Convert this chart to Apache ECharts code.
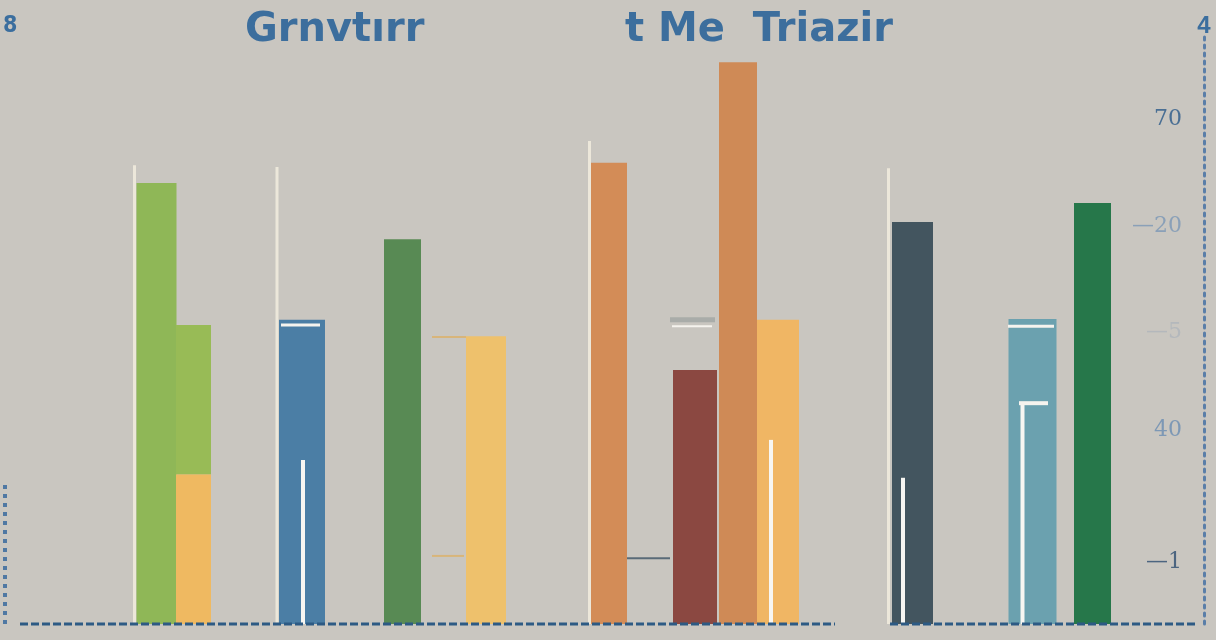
<!DOCTYPE html>
<html>
<head>
<meta charset="utf-8">
<script src="https://cdn.jsdelivr.net/npm/echarts@6/dist/echarts.min.js"></script>
<style>html,body{margin:0;padding:0;background:#c9c6c0;}#chart{width:1216px;height:640px;}</style>
</head>
<body>
<div id="chart"></div>
<script>
// ---- data ----
const titleParts = ['Grnvtırr', 't Me  Triazir'];
const leftAxisName = '8';
const rightAxisName = '4';
const barNames = ['A', 'B1', 'B2', 'C', 'D', 'E', 'F', 'G', 'H', 'I', 'J', 'K', 'L'];
const barPos = [13.65, 17.35, 17.35, 28.2, 38.25, 46.6, 58.9, 67.5, 71.8, 75.8, 89.25, 101.25, 107.25];
const barValues = [74.5, 25.3, 25.2, 51.4, 65.0, 48.6, 77.9, 42.9, 94.9, 51.4, 67.9, 51.5, 71.1];
const polePos = [11.45, 25.7, 56.95, 86.85];
const poleValues = [77.5, 77.2, 81.6, 77.0];
const innerPos = [28.3, 75.1, 88.3, 100.25];
const innerValues = [27.7, 31.1, 24.7, 37.3];
const ruleStart = [26.1, 65.0, 65.2, 98.8, 99.9, 41.2, 41.2, 60.7];
const ruleEnd = [30.0, 69.5, 69.2, 103.4, 102.8, 44.6, 44.4, 65.0];
const ruleValues = [50.5, 51.4, 50.3, 50.3, 37.3, 48.5, 11.5, 11.1];
const rightTickValues = [85.3, 67.2, 49.2, 32.8, 10.5];
const rightTickLabels = ['70', '—20', '—5', '40', '—1'];
const leftStrip = [[-1.5, 0], [-1.5, 24.3]];
const baseSeg1 = [[0, 0], [81.5, 0]];
const baseSeg2 = [[87, 0], [117.7, 0]];

// ---- styles ----
const barColors = ['#8fb757', '#efb961', '#98bb56', '#4b7ea5', '#588a54', '#eec16c', '#d38c57', '#8b4841', '#cf8a56', '#f0b664', '#43555f', '#6ba1af', '#26774a'];
const barWidthsPx = [40, 35, 35, 46, 37, 40, 36, 44, 38, 42, 41, 48, 37];
const ruleColors = ['#f5f3ee', '#a9aca9', '#f5f3ee', '#f5f3ee', '#f5f3ee', '#d8b57a', '#d8b57a', '#5a6b78'];
const ruleWidths = [3, 5, 2, 3, 4, 2, 2, 2];
const rightLabelStyles = ['#4a6f94', '#8aa0b8', '#b4b8bc', '#7d98b5', '#4c6580'];
const titleStyle = {fontSize: 40, fontWeight: 'bold', color: '#3c6e9d', fontFamily: 'DejaVu Sans'};

// stacked bases derived from data (bars sharing a position stack)
const barBases = barValues.map((v, i) => {
  let b = 0;
  for (let j = 0; j < i; j++) if (barPos[j] === barPos[i]) b += barValues[j];
  return b;
});

const chart = echarts.init(document.getElementById('chart'), null, {renderer: 'canvas'});

function vlineRenderer(color, w) {
  return function (params, api) {
    const top = api.coord([api.value(0), api.value(1)]);
    const bot = api.coord([api.value(0), 0]);
    return {type: 'rect', shape: {x: top[0] - w / 2, y: top[1], width: w, height: bot[1] - top[1]}, style: {fill: color}};
  };
}

const option = {
  backgroundColor: '#c9c6c0',
  animation: false,
  title: [
    {text: titleParts[0], left: 240, top: 6, textStyle: titleStyle},
    {text: titleParts[1], left: 620, top: 6, textStyle: titleStyle},
    {text: leftAxisName, left: -2, top: 10, textStyle: {fontSize: 23, fontWeight: 'bold', color: '#3b6e9e', fontFamily: 'DejaVu Sans Condensed'}}
  ],
  grid: {left: 0, right: 12, top: 32, bottom: 16, containLabel: false},
  xAxis: {type: 'value', min: -2, max: 118.4, show: false},
  yAxis: [
    {
      type: 'value', min: 0, max: 100, position: 'left', show: false
    },
    {
      type: 'value', min: 0, max: 100, position: 'right',
      name: rightAxisName, nameLocation: 'end', nameGap: -6,
      nameTextStyle: {color: '#3b6e9e', fontSize: 24, fontWeight: 'bold', align: 'center'},
      axisLine: {show: true, lineStyle: {color: '#5a7ea8', width: 3, type: [3, 5]}},
      axisTick: {show: false},
      splitLine: {show: false},
      axisLabel: {
        show: true, inside: true, margin: 22,
        customValues: rightTickValues,
        fontSize: 22, fontFamily: 'DejaVu Serif',
        formatter: function (val) {
          let idx = 0, best = 1e9;
          rightTickValues.forEach((t, i) => { if (Math.abs(t - val) < best) { best = Math.abs(t - val); idx = i; } });
          return '{s' + idx + '|' + rightTickLabels[idx] + '}';
        },
        rich: {
          s0: {color: rightLabelStyles[0], fontSize: 22},
          s1: {color: rightLabelStyles[1], fontSize: 22},
          s2: {color: rightLabelStyles[2], fontSize: 22},
          s3: {color: rightLabelStyles[3], fontSize: 22},
          s4: {color: rightLabelStyles[4], fontSize: 22}
        }
      }
    }
  ],
  series: [
    {
      name: 'poles', type: 'custom', z: 2,
      renderItem: vlineRenderer('#ece7da', 3),
      data: polePos.map((p, i) => [p, poleValues[i]])
    },
    {
      name: 'bars', type: 'custom', z: 3,
      renderItem: function (params, api) {
        const i = params.dataIndex;
        const x = api.value(0), v = api.value(1), b = api.value(2);
        const t = api.coord([x, b + v]);
        const o = api.coord([x, b]);
        const w = barWidthsPx[i];
        return {type: 'rect', shape: {x: t[0] - w / 2, y: t[1], width: w, height: o[1] - t[1]}, style: {fill: barColors[i]}};
      },
      data: barPos.map((p, i) => ({name: barNames[i], value: [p, barValues[i], barBases[i]]}))
    },
    {
      name: 'inner', type: 'custom', z: 4,
      renderItem: vlineRenderer('#f7f6f2', 4),
      data: innerPos.map((p, i) => [p, innerValues[i]])
    },
    {
      name: 'rules', type: 'custom', z: 5,
      renderItem: function (params, api) {
        const i = params.dataIndex;
        const a = api.coord([api.value(0), api.value(2)]);
        const b = api.coord([api.value(1), api.value(2)]);
        return {type: 'line', shape: {x1: a[0], y1: a[1], x2: b[0], y2: b[1]}, style: {stroke: ruleColors[i], lineWidth: ruleWidths[i]}};
      },
      data: ruleStart.map((s, i) => [s, ruleEnd[i], ruleValues[i]])
    },
    {
      name: 'leftStrip', type: 'line', clip: false, symbol: 'none', z: 6,
      lineStyle: {color: '#4f78a3', width: 4, type: [4, 5]},
      data: leftStrip
    },
    {
      name: 'base1', type: 'line', clip: false, symbol: 'none', z: 6,
      lineStyle: {color: '#2d5a84', width: 3, type: [8, 3]},
      data: baseSeg1
    },
    {
      name: 'base2', type: 'line', clip: false, symbol: 'none', z: 6,
      lineStyle: {color: '#2d5a84', width: 3, type: [8, 3]},
      data: baseSeg2
    }
  ]
};
chart.setOption(option);
</script>
</body>
</html>
